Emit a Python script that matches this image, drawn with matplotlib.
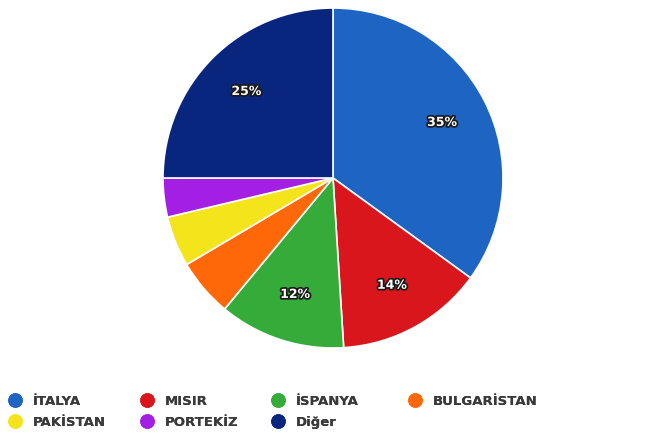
import matplotlib
matplotlib.use("Agg")
import matplotlib.pyplot as plt
import matplotlib.patheffects as pe
from matplotlib.lines import Line2D

# ulke payları (%)
ulkeler = ["İTALYA", "MISIR", "İSPANYA", "BULGARİSTAN", "PAKİSTAN", "PORTEKİZ", "Diğer"]
paylar = [35, 14, 12, 5.5, 4.8, 3.7, 25]
renkler = ["#1e64c3", "#d9161c", "#35ab3a", "#ff6808", "#f4e41c", "#a31fe3", "#08267e"]

fig = plt.figure(figsize=(6.66, 4.33), dpi=100)
ax = fig.add_axes([163 / 666, (433 - 348) / 433, 340 / 666, 340 / 433])

def etiket(p):
    return "%d%%" % round(p) if p >= 10 else ""

wedges, texts, autotexts = ax.pie(
    paylar, colors=renkler, startangle=90, counterclock=False,
    autopct=etiket, pctdistance=0.72,
    wedgeprops=dict(edgecolor="white", linewidth=1.2),
    textprops=dict(color="white", fontsize=9, fontweight="bold"))
for t in autotexts:
    t.set_path_effects([pe.withStroke(linewidth=2.5, foreground="#1a1a1a")])
ax.set_xlim(-1.0, 1.0)
ax.set_ylim(-1.0, 1.0)
ax.set_aspect("equal")

handles = [Line2D([], [], marker="o", linestyle="none", markersize=9.5,
                  markerfacecolor=c, markeredgecolor=c) for c in renkler]
# legend kolonlari: (kolon x konumu, oge indeksleri)
kolonlar = [(2, [0, 4]), (134, [1, 5]), (265, [2, 6]), (402, [3])]
for x0, idx in kolonlar:
    leg = fig.legend([handles[i] for i in idx], [ulkeler[i] for i in idx],
                     ncol=1, loc="upper left",
                     bbox_to_anchor=(x0 / 666, 1 - 388 / 433),
                     frameon=False, handletextpad=0.8, borderpad=0,
                     handlelength=1.0, labelspacing=0.6,
                     prop=dict(size=9.5, weight="bold"), labelcolor="#3a3a3a")
    fig.add_artist(leg)

fig.savefig("out.png", dpi=100)
